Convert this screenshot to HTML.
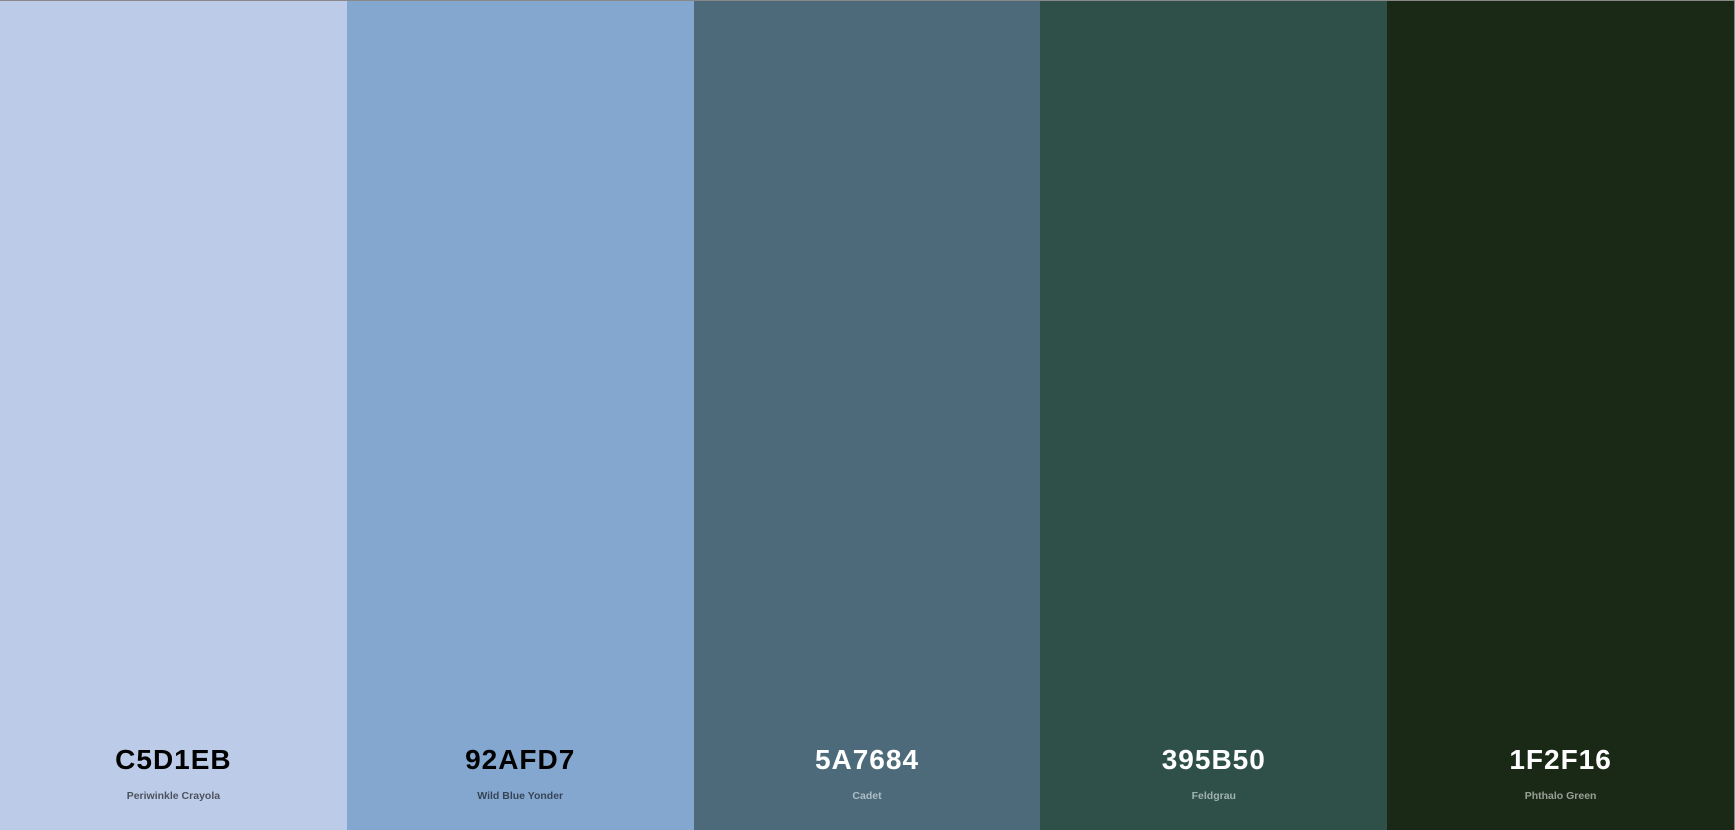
<!DOCTYPE html>
<html>
<head>
<meta charset="utf-8">
<style>
  html,body{margin:0;padding:0;}
  body{width:1735px;height:830px;overflow:hidden;font-family:"Liberation Sans",sans-serif;}
  #palette{display:flex;width:1735px;height:830px;box-sizing:border-box;border-top:1px solid #888;border-right:1px solid #888;}
  .stripe{flex:1;position:relative;}
  .hex{position:absolute;left:0;right:0;top:743px;text-align:center;font-size:28px;font-weight:700;letter-spacing:1px;}
  .name{position:absolute;left:0;right:0;top:789px;text-align:center;font-size:10.5px;font-weight:700;}
</style>
</head>
<body>
<div id="palette"></div>
<script>
const hexCodes = ["C5D1EB","92AFD7","5A7684","395B50","1F2F16"];
const colorNames = ["Periwinkle Crayola","Wild Blue Yonder","Cadet","Feldgrau","Phthalo Green"];
const displayColors = ["#bccbe7","#84a7d0","#4c6a7a","#2e5049","#1a2816"];
const lightText = [false,false,true,true,true];

const pal = document.getElementById('palette');
hexCodes.forEach((h,i)=>{
  const s = document.createElement('div');
  s.className='stripe';
  s.style.background = displayColors[i];
  
  
  const t = document.createElement('div');
  t.className='hex';
  t.textContent = h;
  t.style.color = lightText[i] ? '#ffffff' : '#000000';
  
  
  const n = document.createElement('div');
  n.className='name';
  n.textContent = colorNames[i];
  n.style.color = lightText[i] ? 'rgba(255,255,255,0.55)' : 'rgba(0,0,0,0.6)';
  
  
  s.appendChild(t); s.appendChild(n);
  pal.appendChild(s);
});
</script>
</body>
</html>
